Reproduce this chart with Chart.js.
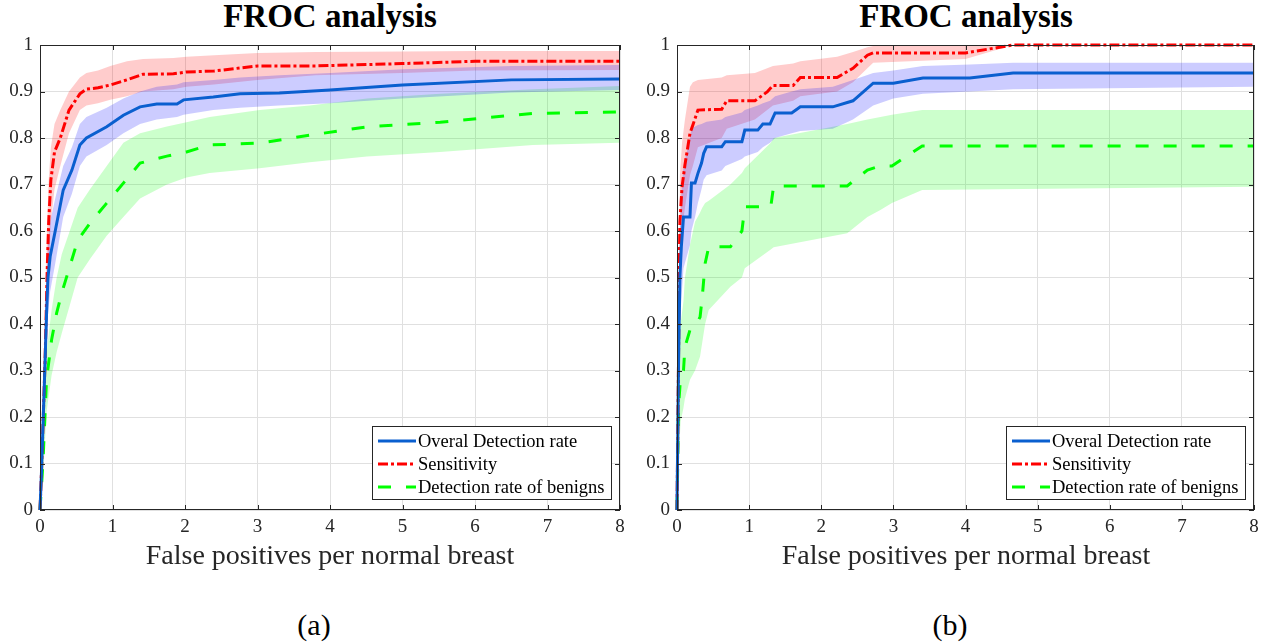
<!DOCTYPE html>
<html>
<head>
<meta charset="utf-8">
<title>FROC analysis</title>
<script src="https://cdn.jsdelivr.net/npm/chart.js@4.4.0/dist/chart.umd.min.js"></script>
<style>
  body { margin: 0; background: #fff; width: 1266px; height: 643px; position: relative; overflow: hidden; font-family: 'Liberation Serif', 'Times New Roman', serif; color: #000; }
  canvas { position: absolute; top: 0; }
  .title { position: absolute; top: 0; width: 400px; text-align: center; font-size: 33px; line-height: 33px; font-weight: bold; }
  .xlabel { position: absolute; top: 541px; width: 500px; text-align: center; font-size: 28px; line-height: 28px; color: #262626; }
  .cap { position: absolute; top: 610px; width: 100px; text-align: center; font-size: 30px; line-height: 30px; }
</style>
</head>
<body>
<div class="title" style="left:130px">FROC analysis</div>
<div class="title" style="left:766px">FROC analysis</div>
<canvas id="chartA" width="633" height="545" style="left:0"></canvas>
<canvas id="chartB" width="633" height="545" style="left:633px"></canvas>
<div class="xlabel" style="left:80px">False positives per normal breast</div>
<div class="xlabel" style="left:716px">False positives per normal breast</div>
<div class="cap" style="left:264px">(a)</div>
<div class="cap" style="left:900px">(b)</div>

<script>
const xTickLabels = ['0', '1', '2', '3', '4', '5', '6', '7', '8'];
const yTickLabels = ['0', '0.1', '0.2', '0.3', '0.4', '0.5', '0.6', '0.7', '0.8', '0.9', '1'];
const seriesNames = ['Overal Detection rate', 'Sensitivity', 'Detection rate of benigns'];

// (a) overall detection rate
const aOverX  = [0, 0.02, 0.045, 0.07, 0.09, 0.11, 0.14, 0.21, 0.32, 0.44, 0.55, 0.64, 0.92, 1.15, 1.38, 1.61, 1.89, 1.98, 2.39, 2.76, 3.3, 4.0, 5.0, 6.5, 8.0];
const aOver   = [0, 0.08, 0.2, 0.32, 0.42, 0.5, 0.545, 0.6, 0.688, 0.731, 0.785, 0.8, 0.824, 0.849, 0.867, 0.873, 0.873, 0.882, 0.888, 0.895, 0.897, 0.903, 0.914, 0.925, 0.927];
const aOverHi = [0, 0.12, 0.27, 0.4, 0.5, 0.57, 0.62, 0.67, 0.74, 0.78, 0.83, 0.845, 0.865, 0.885, 0.9, 0.91, 0.915, 0.92, 0.925, 0.93, 0.935, 0.94, 0.948, 0.955, 0.957];
const aOverLo = [0, 0.04, 0.13, 0.24, 0.34, 0.42, 0.47, 0.53, 0.63, 0.68, 0.74, 0.76, 0.785, 0.81, 0.83, 0.84, 0.845, 0.85, 0.86, 0.865, 0.87, 0.875, 0.885, 0.898, 0.903];

// (a) sensitivity
const aSensX  = [0, 0.02, 0.045, 0.07, 0.085, 0.1, 0.12, 0.15, 0.2, 0.28, 0.4, 0.55, 0.64, 0.8, 0.97, 1.2, 1.42, 1.84, 2.02, 2.4, 3.0, 3.8, 5.0, 6.0, 8.0];
const aSens   = [0, 0.08, 0.2, 0.32, 0.42, 0.52, 0.62, 0.71, 0.77, 0.8, 0.86, 0.895, 0.905, 0.908, 0.914, 0.925, 0.937, 0.938, 0.942, 0.944, 0.955, 0.955, 0.96, 0.965, 0.965];
const aSensHi = [0, 0.14, 0.3, 0.42, 0.52, 0.62, 0.71, 0.78, 0.83, 0.86, 0.9, 0.93, 0.94, 0.945, 0.955, 0.965, 0.97, 0.972, 0.975, 0.978, 0.983, 0.985, 0.986, 0.987, 0.987];
const aSensLo = [0, 0.03, 0.12, 0.22, 0.32, 0.42, 0.52, 0.62, 0.69, 0.74, 0.81, 0.86, 0.87, 0.875, 0.882, 0.89, 0.9, 0.905, 0.91, 0.915, 0.925, 0.935, 0.94, 0.945, 0.946];

// (a) benigns
const aBenX  = [0, 0.04, 0.09, 0.16, 0.23, 0.3, 0.41, 0.52, 0.69, 0.92, 1.15, 1.38, 1.75, 2.02, 2.34, 3.03, 3.72, 4.51, 5.52, 6.8, 8.0];
const aBen   = [0, 0.1, 0.28, 0.366, 0.424, 0.467, 0.523, 0.58, 0.617, 0.66, 0.703, 0.746, 0.761, 0.77, 0.785, 0.789, 0.806, 0.824, 0.834, 0.853, 0.856];
const aBenHi = [0, 0.14, 0.34, 0.43, 0.5, 0.55, 0.6, 0.65, 0.69, 0.74, 0.79, 0.81, 0.825, 0.834, 0.845, 0.86, 0.87, 0.885, 0.895, 0.905, 0.912];
const aBenLo = [0, 0.06, 0.21, 0.29, 0.34, 0.38, 0.44, 0.5, 0.54, 0.59, 0.63, 0.67, 0.7, 0.715, 0.725, 0.735, 0.748, 0.76, 0.77, 0.785, 0.79];

// (b) overall detection rate
const bOverX  = [0, 0.02, 0.04, 0.06, 0.09, 0.18, 0.2, 0.25, 0.29, 0.34, 0.37, 0.41, 0.62, 0.67, 0.9, 0.94, 1.12, 1.19, 1.29, 1.36, 1.59, 1.71, 2.16, 2.44, 2.72, 3.0, 3.41, 4.06, 4.66, 8.0];
const bOver   = [0, 0.3, 0.5, 0.566, 0.63, 0.63, 0.703, 0.703, 0.724, 0.746, 0.767, 0.781, 0.781, 0.792, 0.792, 0.817, 0.817, 0.83, 0.83, 0.854, 0.854, 0.867, 0.867, 0.88, 0.918, 0.918, 0.929, 0.929, 0.94, 0.94];
const bOverHi = [0, 0.4, 0.6, 0.68, 0.74, 0.8, 0.82, 0.825, 0.828, 0.83, 0.832, 0.835, 0.84, 0.845, 0.855, 0.86, 0.87, 0.875, 0.88, 0.89, 0.9, 0.905, 0.91, 0.925, 0.94, 0.945, 0.955, 0.958, 0.962, 0.962];
const bOverLo = [0, 0.2, 0.4, 0.45, 0.52, 0.57, 0.6, 0.63, 0.66, 0.69, 0.71, 0.72, 0.73, 0.74, 0.755, 0.76, 0.77, 0.78, 0.79, 0.8, 0.81, 0.815, 0.82, 0.84, 0.87, 0.885, 0.895, 0.9, 0.905, 0.91];

// (b) sensitivity
const bSensX  = [0, 0.02, 0.03, 0.04, 0.07, 0.11, 0.18, 0.22, 0.29, 0.62, 0.69, 1.08, 1.25, 1.33, 1.61, 1.71, 2.22, 2.44, 2.64, 2.72, 4.0, 4.66, 8.0];
const bSens   = [0, 0.3, 0.5, 0.62, 0.695, 0.742, 0.81, 0.828, 0.86, 0.862, 0.88, 0.88, 0.899, 0.913, 0.913, 0.93, 0.93, 0.95, 0.978, 0.983, 0.983, 1.0, 1.0];
const bSensHi = [0, 0.4, 0.6, 0.72, 0.79, 0.84, 0.91, 0.92, 0.925, 0.93, 0.935, 0.94, 0.95, 0.955, 0.96, 0.965, 0.975, 0.985, 0.995, 0.998, 0.998, 1.0, 1.0];
const bSensLo = [0, 0.2, 0.4, 0.52, 0.6, 0.65, 0.72, 0.74, 0.78, 0.8, 0.82, 0.84, 0.86, 0.87, 0.88, 0.89, 0.9, 0.92, 0.95, 0.962, 0.97, 1.0, 1.0];

// (b) benigns
const bBenX  = [0, 0.01, 0.02, 0.05, 0.09, 0.11, 0.18, 0.25, 0.32, 0.35, 0.39, 0.44, 0.74, 0.9, 0.94, 1.3, 1.34, 2.36, 2.64, 2.82, 2.98, 3.4, 8.0];
const bBen   = [0, 0.1, 0.22, 0.286, 0.3, 0.35, 0.387, 0.394, 0.415, 0.458, 0.53, 0.566, 0.566, 0.6, 0.652, 0.652, 0.697, 0.697, 0.731, 0.74, 0.74, 0.783, 0.783];
const bBenHi = [0, 0.2, 0.3, 0.4, 0.45, 0.5, 0.57, 0.62, 0.64, 0.65, 0.66, 0.665, 0.7, 0.725, 0.735, 0.79, 0.8, 0.83, 0.84, 0.845, 0.85, 0.86, 0.86];
const bBenLo = [0, 0.02, 0.1, 0.19, 0.22, 0.24, 0.28, 0.3, 0.33, 0.36, 0.4, 0.43, 0.48, 0.5, 0.52, 0.56, 0.565, 0.595, 0.63, 0.645, 0.66, 0.688, 0.695];

// line styles: overall, sensitivity, benigns
const lineColors = ['#0a5fcf', '#ff0000', '#00ff00'];
const bandColors = ['rgba(0,0,255,0.2)', 'rgba(255,0,0,0.2)', 'rgba(0,255,0,0.2)'];
const lineDashes = [[], [10, 3, 3, 3], [13, 15]];
const serif = "'Liberation Serif', 'Times New Roman', serif";

function pts(xs, ys) {
  return xs.map(function(x, i) { return { x: x, y: ys[i] }; });
}

// frame with inward ticks + MATLAB style legend box
const framePlugin = {
  id: 'frame',
  afterDatasetsDraw: function(chart) {
    const ctx = chart.ctx;
    const a = chart.chartArea;
    ctx.save();
    ctx.strokeStyle = '#262626';
    ctx.lineWidth = 1;
    ctx.setLineDash([]);
    ctx.beginPath();
    chart.scales.x.ticks.forEach(function(t) {
      const px = Math.round(chart.scales.x.getPixelForValue(t.value)) + 0.5;
      ctx.moveTo(px, a.bottom); ctx.lineTo(px, a.bottom - 5);
      ctx.moveTo(px, a.top); ctx.lineTo(px, a.top + 5);
    });
    chart.scales.y.ticks.forEach(function(t) {
      const py = Math.round(chart.scales.y.getPixelForValue(t.value)) + 0.5;
      ctx.moveTo(a.left, py); ctx.lineTo(a.left + 5, py);
      ctx.moveTo(a.right, py); ctx.lineTo(a.right - 5, py);
    });
    ctx.stroke();
    ctx.strokeRect(a.left + 0.5, a.top + 0.5, a.right - a.left - 1, a.bottom - a.top - 1);

    // legend
    ctx.font = '18.5px ' + serif;
    let tw = 0;
    seriesNames.forEach(function(n) { tw = Math.max(tw, ctx.measureText(n).width); });
    const w = Math.round(46 + tw + 7);
    const h = 73;
    const bx = Math.round(a.right - 9 - w);
    const by = Math.round(a.bottom - 11 - h);
    ctx.fillStyle = '#ffffff';
    ctx.fillRect(bx, by, w, h);
    ctx.strokeStyle = '#262626';
    ctx.strokeRect(bx + 0.5, by + 0.5, w, h);
    ctx.textBaseline = 'middle';
    ctx.textAlign = 'left';
    seriesNames.forEach(function(n, i) {
      const cy = by + 15 + i * 23;
      ctx.strokeStyle = lineColors[i];
      ctx.lineWidth = 3;
      ctx.setLineDash(lineDashes[i]);
      ctx.beginPath();
      ctx.moveTo(bx + 6, cy);
      ctx.lineTo(bx + 44, cy);
      ctx.stroke();
      ctx.fillStyle = '#000000';
      ctx.fillText(n, bx + 46, cy + 1);
    });
    ctx.restore();
  }
};

function makeChart(id, series, axisWidth, padRight) {
  const lines = series.map(function(s, i) {
    return {
      data: pts(s.x, s.y),
      borderColor: lineColors[i],
      borderWidth: 3,
      borderDash: lineDashes[i],
      pointRadius: 0,
      fill: false,
      tension: 0,
      clip: 4
    };
  });
  const bands = [];
  series.forEach(function(s, i) {
    bands.push({ data: pts(s.x, s.hi), borderWidth: 0, pointRadius: 0, backgroundColor: bandColors[i], fill: '+1' });
    bands.push({ data: pts(s.x, s.lo), borderWidth: 0, pointRadius: 0, fill: false });
  });

  return new Chart(document.getElementById(id), {
    type: 'line',
    data: { datasets: lines.concat(bands) },
    plugins: [framePlugin],
    options: {
      responsive: false,
      animation: false,
      events: [],
      layout: { padding: { top: 45, right: padRight, bottom: 0, left: 0 } },
      plugins: { legend: { display: false }, tooltip: { enabled: false } },
      scales: {
        x: {
          type: 'linear',
          min: 0, max: 8,
          afterFit: function(scale) { scale.height = 35; },
          grid: { color: '#e0e0e0', drawTicks: false },
          border: { display: false },
          ticks: {
            stepSize: 1, autoSkip: false, maxRotation: 0, padding: 6,
            color: '#262626',
            font: { family: serif, size: 19 },
            callback: function(v, i) { return xTickLabels[i]; }
          }
        },
        y: {
          min: 0, max: 1,
          afterFit: function(scale) { scale.width = axisWidth; },
          grid: { color: '#e0e0e0', drawTicks: false },
          border: { display: false },
          ticks: {
            stepSize: 0.1, autoSkip: false, padding: 7,
            color: '#262626',
            font: { family: serif, size: 19 },
            callback: function(v, i) { return yTickLabels[i]; }
          }
        }
      }
    }
  });
}

makeChart('chartA', [
  { x: aOverX, y: aOver, hi: aOverHi, lo: aOverLo },
  { x: aSensX, y: aSens, hi: aSensHi, lo: aSensLo },
  { x: aBenX, y: aBen, hi: aBenHi, lo: aBenLo }
], 40, 13);

makeChart('chartB', [
  { x: bOverX, y: bOver, hi: bOverHi, lo: bOverLo },
  { x: bSensX, y: bSens, hi: bSensHi, lo: bSensLo },
  { x: bBenX, y: bBen, hi: bBenHi, lo: bBenLo }
], 44, 12);
</script>
</body>
</html>
